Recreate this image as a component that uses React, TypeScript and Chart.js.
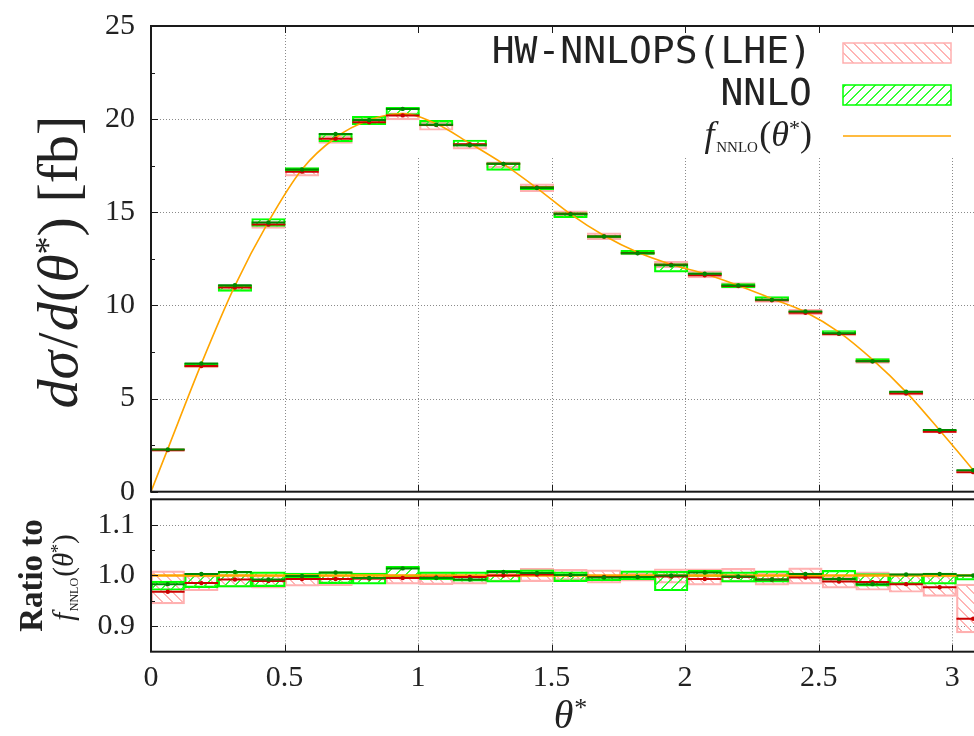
import React, { useEffect, useRef } from "react";
import { Chart, registerables } from "chart.js";

Chart.register(...registerables);

// ---------- data ----------
const THETA_MAX = Math.PI;
const N_BINS = 25;
const binEdges = Array.from({ length: N_BINS + 1 }, (_, i) => (i * THETA_MAX) / N_BINS);
const binCenters = binEdges.slice(0, -1).map((e, i) => (e + binEdges[i + 1]) / 2);

// top panel: central values [fb]
const nnlopsValue = [2.23, 6.75, 10.96, 14.34, 17.18, 18.95, 19.83, 20.2, 19.68, 18.65, 17.6, 16.33, 14.92, 13.7, 12.81, 12.18, 11.62, 11.04, 10.28, 9.61, 8.47, 7.0, 5.27, 3.22, 1.05];
const nnloValue = [2.27, 6.88, 11.08, 14.45, 17.3, 19.2, 19.95, 20.55, 19.7, 18.6, 17.6, 16.3, 14.9, 13.7, 12.8, 12.15, 11.7, 11.07, 10.3, 9.68, 8.5, 7.0, 5.37, 3.31, 1.15];

// ratio panel (to f_NNLO)
const nnlopsRatio = [0.968, 0.985, 0.992, 0.989, 0.993, 0.993, 0.994, 0.995, 0.996, 0.997, 1.0, 1.002, 1.001, 0.997, 0.997, 0.998, 0.993, 0.997, 0.992, 0.996, 0.988, 0.987, 0.983, 0.977, 0.915];
const nnlopsRatioLo = [0.944, 0.97, 0.977, 0.975, 0.979, 0.98, 0.992, 0.983, 0.982, 0.983, 0.988, 0.988, 0.991, 0.985, 0.989, 0.985, 0.981, 0.987, 0.981, 0.983, 0.975, 0.971, 0.967, 0.959, 0.887];
const nnlopsRatioHi = [1.009, 1.0, 1.002, 1.0, 1.004, 1.001, 1.005, 1.002, 1.004, 1.0, 1.006, 1.014, 1.012, 1.011, 1.005, 1.013, 1.013, 1.014, 1.005, 1.015, 0.997, 1.007, 1.004, 1.0, 0.983];
const nnloRatio = [0.983, 1.003, 1.007, 0.992, 0.999, 1.006, 0.995, 1.014, 0.995, 0.992, 1.007, 1.005, 1.001, 0.996, 0.997, 1.0, 1.006, 0.998, 0.992, 1.003, 0.993, 0.983, 1.002, 1.003, 1.0];
const nnloRatioLo = [0.971, 0.976, 0.977, 0.978, 0.995, 0.984, 0.983, 0.997, 0.992, 0.989, 0.987, 1.0, 0.988, 0.99, 0.992, 0.97, 0.998, 0.987, 0.987, 0.997, 0.991, 0.979, 0.983, 0.983, 0.991];
const nnloRatioHi = [0.989, 1.004, 1.008, 1.007, 1.005, 1.007, 1.005, 1.018, 1.007, 1.007, 1.01, 1.011, 1.007, 1.0, 1.009, 1.008, 1.01, 1.007, 1.009, 1.005, 1.01, 1.004, 1.003, 1.005, 1.002];

// f_NNLO(theta*)
const fitTheta = [0, 0.063, 0.188, 0.314, 0.44, 0.565, 0.691, 0.817, 0.942, 1.068, 1.194, 1.319, 1.445, 1.571, 1.696, 1.822, 1.948, 2.073, 2.199, 2.325, 2.45, 2.576, 2.702, 2.827, 2.953, 3.079, 3.1416];
const fitValue = [0, 2.3, 6.85, 11.05, 14.5, 17.3, 19.0, 19.95, 20.3, 19.75, 18.7, 17.6, 16.3, 14.9, 13.75, 12.85, 12.2, 11.7, 11.07, 10.36, 9.65, 8.57, 7.09, 5.36, 3.3, 1.15, 0];

const xTickValues = [0, 0.5, 1, 1.5, 2, 2.5, 3];
const yTickValues = [0, 5, 10, 15, 20, 25];
const yMinorValues = [2.5, 7.5, 12.5, 17.5, 22.5];
const ratioTickValues = [0.9, 1.0, 1.1];
const ratioMinorValues = [0.95, 1.05];
const legendLabels = ["HW-NNLOPS(LHE)", "NNLO"];

// ---------- style ----------
const SERIF = '"Liberation Serif", "Times New Roman", serif';
const MONO = '"DejaVu Sans Mono", monospace';
const TXT = "#222";
const PINK_BOX = "#ffb0b0";
const PINK_HATCH = "#ffb4b4";
const RED_LINE = "#cc0000";
const GREEN_BOX = "#00ff00";
const GREEN_HATCH = "#33ff33";
const GREEN_LINE = "#008800";
const ORANGE = "#ffa500";
const GRID = "#8a8a8a";

// crisp diagonal hatch tile (2px wide staircase)
function makeHatch(color: string, dir: "fwd" | "back") {
  const s = 10;
  const c = document.createElement("canvas");
  c.width = s;
  c.height = s;
  const g = c.getContext("2d")!;
  g.fillStyle = color;
  for (let i = 0; i < s; i++) {
    const yy = dir === "fwd" ? s - 1 - i : i;
    g.fillRect(i, yy, 2, 1);
    if (i === s - 1) g.fillRect(0, yy, 1, 1);
  }
  return g.createPattern(c, "repeat")!;
}

type Seg = { t: string; f: string; dy?: number; gap?: number };
function segsWidth(ctx: CanvasRenderingContext2D, segs: Seg[]) {
  let w = 0;
  for (const s of segs) {
    ctx.font = s.f;
    w += ctx.measureText(s.t).width + (s.gap || 0);
  }
  return w;
}
function drawSegs(ctx: CanvasRenderingContext2D, segs: Seg[], x: number, y: number) {
  for (const s of segs) {
    ctx.font = s.f;
    ctx.fillText(s.t, x, y + (s.dy || 0));
    x += ctx.measureText(s.t).width + (s.gap || 0);
  }
}
function fLabelSegs(size: number): Seg[] {
  return [
    { t: "f", f: `italic ${size}px ${SERIF}`, gap: size * 0.05 },
    { t: "NNLO", f: `${Math.round(size * 0.42)}px ${SERIF}`, dy: size * 0.16, gap: size * 0.04 },
    { t: "(", f: `${size}px ${SERIF}` },
    { t: "θ", f: `italic ${size}px ${SERIF}` },
    { t: "*", f: `${Math.round(size * 0.62)}px ${SERIF}`, dy: -size * 0.3 },
    { t: ")", f: `${size}px ${SERIF}` },
  ];
}
function drawRotated(ctx: CanvasRenderingContext2D, segs: Seg[], xBase: number, yCenter: number) {
  ctx.save();
  ctx.translate(xBase, yCenter);
  ctx.rotate(-Math.PI / 2);
  ctx.textAlign = "left";
  ctx.textBaseline = "alphabetic";
  ctx.fillStyle = TXT;
  const w = segsWidth(ctx, segs);
  drawSegs(ctx, segs, -w / 2, 0);
  ctx.restore();
}

function framePlugin(cfg: {
  yMajor: number[];
  yMinor: number[];
  key?: { left: number; bottom: number };
  after?: (chart: any) => void;
}) {
  return {
    id: "frame",
    beforeDatasetsDraw(chart: any) {
      const { ctx, chartArea: a } = chart;
      const x = chart.scales.x;
      const y = chart.scales.y;
      ctx.save();
      ctx.strokeStyle = GRID;
      ctx.lineWidth = 1;
      ctx.setLineDash([1, 2]);
      ctx.beginPath();
      for (const v of xTickValues) {
        const px = Math.round(x.getPixelForValue(v)) + 0.5;
        if (px <= a.left + 2 || px >= a.right - 2) continue;
        ctx.moveTo(px, a.top);
        ctx.lineTo(px, a.bottom);
      }
      for (const v of cfg.yMajor) {
        const py = Math.round(y.getPixelForValue(v)) + 0.5;
        if (py <= a.top + 2 || py >= a.bottom - 2) continue;
        ctx.moveTo(a.left, py);
        ctx.lineTo(a.right, py);
      }
      ctx.stroke();
      ctx.setLineDash([]);
      if (cfg.key) {
        ctx.fillStyle = "#fff";
        ctx.fillRect(cfg.key.left, a.top + 1, a.right - cfg.key.left - 1, cfg.key.bottom - a.top);
      }
      ctx.restore();
    },
    afterDatasetsDraw(chart: any) {
      const { ctx, chartArea: a } = chart;
      const x = chart.scales.x;
      const y = chart.scales.y;
      ctx.save();
      ctx.strokeStyle = "#1a1a1a";
      ctx.lineWidth = 1;
      ctx.beginPath();
      const tick = (v: number, len: number) => {
        const py = Math.round(y.getPixelForValue(v)) + 0.5;
        ctx.moveTo(a.left, py);
        ctx.lineTo(a.left + len, py);
        ctx.moveTo(a.right, py);
        ctx.lineTo(a.right - len, py);
      };
      cfg.yMajor.forEach((v) => tick(v, 7));
      cfg.yMinor.forEach((v) => tick(v, 4));
      for (const v of xTickValues) {
        const px = Math.round(x.getPixelForValue(v)) + 0.5;
        ctx.moveTo(px, a.bottom);
        ctx.lineTo(px, a.bottom - 7);
        ctx.moveTo(px, a.top);
        ctx.lineTo(px, a.top + 7);
      }
      ctx.stroke();
      ctx.lineWidth = 2;
      ctx.strokeRect(a.left, a.top, a.right - a.left, a.bottom - a.top);
      ctx.restore();
    },
    afterDraw(chart: any) {
      if (cfg.after) cfg.after(chart);
    },
  };
}

function buildDatasets(mode: "top" | "ratio", pinkHatch: CanvasPattern, greenHatch: CanvasPattern) {
  const redC = mode === "top" ? nnlopsValue : nnlopsRatio;
  const redLo = mode === "top" ? nnlopsValue.map((v, i) => (v * nnlopsRatioLo[i]) / nnlopsRatio[i]) : nnlopsRatioLo;
  const redHi = mode === "top" ? nnlopsValue.map((v, i) => (v * nnlopsRatioHi[i]) / nnlopsRatio[i]) : nnlopsRatioHi;
  const grnC = mode === "top" ? nnloValue : nnloRatio;
  const grnLo = mode === "top" ? nnloValue.map((v, i) => (v * nnloRatioLo[i]) / nnloRatio[i]) : nnloRatioLo;
  const grnHi = mode === "top" ? nnloValue.map((v, i) => (v * nnloRatioHi[i]) / nnloRatio[i]) : nnloRatioHi;
  const orange =
    mode === "top"
      ? fitTheta.map((t, i) => ({ x: t, y: fitValue[i] }))
      : [
          { x: 0, y: 1 },
          { x: THETA_MAX, y: 1 },
        ];
  const segs = (vals: number[]) =>
    vals.flatMap((v, i) => [
      { x: binEdges[i], y: v },
      { x: binEdges[i + 1], y: v },
      { x: binEdges[i + 1], y: null },
    ]);
  const dots = (vals: number[]) => vals.map((v, i) => ({ x: binCenters[i], y: v }));
  const band = (lo: number[], hi: number[]) => lo.map((l, i) => ({ x: binCenters[i], y: [l, hi[i]] }));
  return [
    { type: "line", data: dots(grnC), showLine: false, pointRadius: 2.2, pointBackgroundColor: GREEN_LINE, pointBorderWidth: 0, order: 0 },
    { type: "line", data: segs(grnC), borderColor: GREEN_LINE, borderWidth: 2, pointRadius: 0, spanGaps: false, order: 1 },
    { type: "line", data: dots(redC), showLine: false, pointRadius: 2.2, pointBackgroundColor: RED_LINE, pointBorderWidth: 0, order: 2 },
    { type: "line", data: segs(redC), borderColor: RED_LINE, borderWidth: 2, pointRadius: 0, spanGaps: false, order: 3 },
    {
      type: "line",
      data: orange,
      borderColor: ORANGE,
      borderWidth: mode === "top" ? 1.6 : 2.5,
      pointRadius: 0,
      cubicInterpolationMode: "monotone",
      order: 4,
    },
    {
      type: "bar",
      data: band(grnLo, grnHi),
      backgroundColor: greenHatch,
      borderColor: GREEN_BOX,
      borderWidth: 1.5,
      borderSkipped: false,
      grouped: false,
      barPercentage: 1,
      categoryPercentage: 1,
      order: 5,
    },
    {
      type: "bar",
      data: band(redLo, redHi),
      backgroundColor: pinkHatch,
      borderColor: PINK_BOX,
      borderWidth: 1.5,
      borderSkipped: false,
      grouped: false,
      barPercentage: 1,
      categoryPercentage: 1,
      order: 6,
    },
  ];
}

export default function App() {
  const topRef = useRef<HTMLCanvasElement>(null);
  const botRef = useRef<HTMLCanvasElement>(null);

  useEffect(() => {
    const pinkHatch = makeHatch(PINK_HATCH, "back");
    const greenHatch = makeHatch(GREEN_HATCH, "fwd");

    const xScale = (display: boolean) => ({
      type: "linear",
      min: 0,
      max: THETA_MAX,
      offset: false,
      display,
      afterBuildTicks: (s: any) => {
        s.ticks = xTickValues.map((v) => ({ value: v }));
      },
      grid: { display: false, drawTicks: false, offset: false },
      border: { display: false },
      ticks: {
        font: { family: SERIF, size: 30 },
        color: TXT,
        padding: 8,
        maxRotation: 0,
        autoSkip: false,
        callback: (v: any) => String(v),
      },
      afterFit: (s: any) => {
        if (display) s.height = 84.3;
        s.paddingLeft = 0;
        s.paddingRight = 0;
      },
    });

    const yFit = (s: any) => {
      s.width = 151;
      s.paddingTop = 0;
      s.paddingBottom = 0;
    };

    const topAfter = (chart: any) => {
      const ctx: CanvasRenderingContext2D = chart.ctx;
      ctx.save();
      // legend
      ctx.fillStyle = TXT;
      ctx.textAlign = "right";
      ctx.textBaseline = "middle";
      ctx.font = `38px ${MONO}`;
      ctx.fillText(legendLabels[0], 812, 53);
      ctx.fillText(legendLabels[1], 812, 95);
      ctx.fillStyle = pinkHatch;
      ctx.fillRect(843, 43, 108, 20);
      ctx.strokeStyle = PINK_BOX;
      ctx.lineWidth = 1.5;
      ctx.strokeRect(843, 43, 108, 20);
      ctx.fillStyle = greenHatch;
      ctx.fillRect(843, 85, 108, 20);
      ctx.strokeStyle = GREEN_BOX;
      ctx.strokeRect(843, 85, 108, 20);
      ctx.strokeStyle = ORANGE;
      ctx.lineWidth = 1.6;
      ctx.beginPath();
      ctx.moveTo(843, 136);
      ctx.lineTo(951, 136);
      ctx.stroke();
      ctx.textAlign = "left";
      ctx.textBaseline = "alphabetic";
      ctx.fillStyle = TXT;
      const fs = fLabelSegs(36);
      const w = segsWidth(ctx, fs);
      drawSegs(ctx, fs, 812 - w, 146);
      ctx.restore();
      // y title
      const size = 58;
      const title: Seg[] = [
        { t: "d", f: `italic ${size}px ${SERIF}` },
        { t: "σ", f: `italic ${size}px ${SERIF}`, gap: size * 0.04 },
        { t: "/", f: `${size}px ${SERIF}`, gap: size * 0.02 },
        { t: "d", f: `italic ${size}px ${SERIF}` },
        { t: "(", f: `${size}px ${SERIF}` },
        { t: "θ", f: `italic ${size}px ${SERIF}` },
        { t: "*", f: `${Math.round(size * 0.62)}px ${SERIF}`, dy: -size * 0.3 },
        { t: ")", f: `${size}px ${SERIF}` },
        { t: " [fb]", f: `${size}px ${SERIF}` },
      ];
      drawRotated(ctx, title, 77, 262);
    };

    const botAfter = (chart: any) => {
      const ctx: CanvasRenderingContext2D = chart.ctx;
      const a = chart.chartArea;
      drawRotated(ctx, [{ t: "Ratio to", f: `bold 33px ${SERIF}` }], 42, (a.top + a.bottom) / 2);
      drawRotated(ctx, fLabelSegs(29), 73, (a.top + a.bottom) / 2 + 2);
      ctx.save();
      ctx.fillStyle = TXT;
      ctx.textAlign = "left";
      ctx.textBaseline = "alphabetic";
      const xt: Seg[] = [
        { t: "θ", f: `italic 40px ${SERIF}`, gap: 1 },
        { t: "*", f: `26px ${SERIF}`, dy: -12 },
      ];
      const w = segsWidth(ctx, xt);
      drawSegs(ctx, xt, (a.left + a.right) / 2 - w / 2, 258);
      ctx.restore();
    };

    const common = {
      responsive: false,
      animation: false,
      events: [],
    };

    const top = new Chart(topRef.current!, {
      type: "bar",
      data: { datasets: buildDatasets("top", pinkHatch, greenHatch) as any },
      options: {
        ...common,
        layout: { padding: { left: 0, right: 10, top: 26, bottom: 38.3 } },
        plugins: { legend: { display: false }, tooltip: { enabled: false } },
        scales: {
          x: xScale(false) as any,
          y: {
            type: "linear",
            min: 0,
            max: 25,
            afterBuildTicks: (s: any) => {
              s.ticks = yTickValues.map((v) => ({ value: v }));
            },
            afterFit: yFit,
            grid: { display: false, drawTicks: false },
            border: { display: false },
            ticks: { font: { family: SERIF, size: 30 }, color: TXT, padding: 16, callback: (v: any) => String(v) },
          },
        },
      } as any,
      plugins: [framePlugin({ yMajor: yTickValues, yMinor: yMinorValues, key: { left: 400, bottom: 157 }, after: topAfter })],
    });

    const bot = new Chart(botRef.current!, {
      type: "bar",
      data: { datasets: buildDatasets("ratio", pinkHatch, greenHatch) as any },
      options: {
        ...common,
        layout: { padding: { left: 0, right: 10, top: 29.3, bottom: 0 } },
        plugins: { legend: { display: false }, tooltip: { enabled: false } },
        scales: {
          x: xScale(true) as any,
          y: {
            type: "linear",
            min: 0.85,
            max: 1.15,
            afterBuildTicks: (s: any) => {
              s.ticks = ratioTickValues.map((v) => ({ value: v }));
            },
            afterFit: yFit,
            grid: { display: false, drawTicks: false },
            border: { display: false },
            ticks: { font: { family: SERIF, size: 30 }, color: TXT, padding: 16, callback: (v: any) => Number(v).toFixed(1) },
          },
        },
      } as any,
      plugins: [framePlugin({ yMajor: ratioTickValues, yMinor: ratioMinorValues, after: botAfter })],
    });

    return () => {
      top.destroy();
      bot.destroy();
    };
  }, []);

  return (
    <div
      style={{
        position: "fixed",
        left: 0,
        top: 0,
        width: 974,
        height: 736,
        overflow: "hidden",
        background: "#fff",
      }}
    >
      <canvas ref={topRef} width={1000} height={530} style={{ position: "absolute", left: 0, top: 0 }} />
      <canvas ref={botRef} width={1000} height={266} style={{ position: "absolute", left: 0, top: 470 }} />
    </div>
  );
}
